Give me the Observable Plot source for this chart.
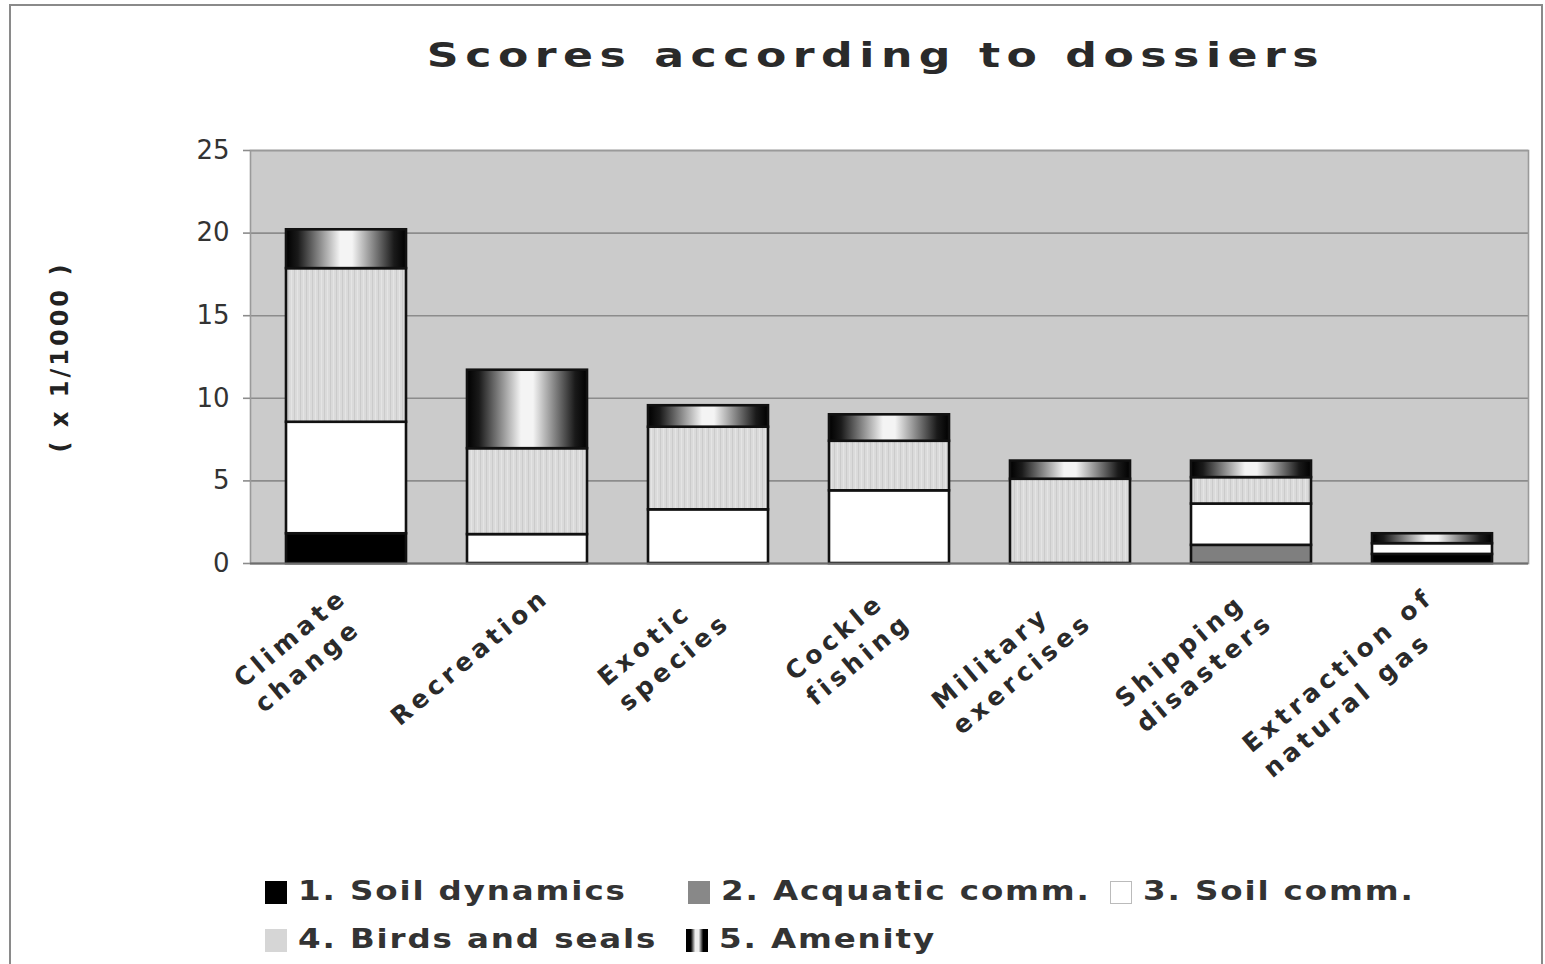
<!DOCTYPE html>
<html>
<head>
<meta charset="utf-8">
<script src="https://cdn.jsdelivr.net/npm/d3@7"></script>
<script src="https://cdn.jsdelivr.net/npm/@observablehq/plot@0.6"></script>
<style>
  html, body { margin: 0; padding: 0; background: #fff; width: 1545px; height: 964px; overflow: hidden;
    font-family: "DejaVu Sans", Verdana, sans-serif; }
  #outer { position: absolute; left: 9px; top: 4px; width: 1534px; height: 1000px;
    border: 2px solid #8a8a8a; border-bottom: none; box-sizing: border-box; }
  #title { position: absolute; left: 876px; top: 38px; white-space: nowrap; font-size: 34px; line-height: 34px;
    font-weight: bold; color: #2a2a2a; letter-spacing: 5px; transform: translateX(-50%) scaleX(1.3); transform-origin: center; }
  #chart { position: absolute; left: 0; top: 130px; }
  .legend-item { position: absolute; height: 30px; }
  .legend-item .sw { position: absolute; left: 0; top: 3px; width: 22px; height: 23px; box-sizing: border-box; }
  .legend-item .lb { position: absolute; left: 33px; top: 0; white-space: nowrap; font-size: 26px; line-height: 27px;
    font-weight: bold; color: #333; letter-spacing: 1.5px; transform: scaleX(1.25); transform-origin: left center; }
  .chart g[aria-label="x-axis tick label"] { letter-spacing: 4.5px; }
  .chart g[aria-label="text"] { letter-spacing: 3px; }
</style>
</head>
<body>
<div id="outer"></div>
<div id="title"></div>
<div id="chart"></div>
<div id="legend"></div>
<script>
// ---------- data ----------
const titleText = "Scores according to dossiers";
const yAxisTitle = "( x 1/1000 )";
const categories = ["Climate change", "Recreation", "Exotic species", "Cockle fishing",
  "Military exercises", "Shipping disasters", "Extraction of natural gas"];
const tickLabels = ["Climate\nchange", "Recreation", "Exotic\nspecies", "Cockle\nfishing",
  "Military\nexercises", "Shipping\ndisasters", "Extraction of\nnatural gas"];
const seriesNames = ["1. Soil dynamics", "2. Acquatic comm.", "3. Soil comm.", "4. Birds and seals", "5. Amenity"];
const soilDynamics = [1.8, 0, 0, 0, 0, 0, 0.55];
const aquaticComm  = [0, 0, 0, 0, 0, 1.1, 0];
const soilComm     = [6.75, 1.75, 3.25, 4.4, 0, 2.5, 0.65];
const birdsSeals   = [9.3, 5.2, 5.0, 3.0, 5.1, 1.6, 0];
const amenity      = [2.35, 4.75, 1.3, 1.6, 1.1, 1.0, 0.6];
const yTicks = [0, 5, 10, 15, 20, 25];

// ---------- styles ----------
const seriesFills = ["#000000", "#7f7f7f", "#ffffff", "url(#birdsPat)", "url(#amenityGrad)"];
const legendSwatches = [
  "background:#000;",
  "background:#888;",
  "background:#fff;border:1.5px solid #bbb;",
  "background:#d6d6d6;",
  "background:linear-gradient(to right,#000 0 22%,#eee 42% 58%,#000 78% 100%);"
];
const legendPos = [[265, 878], [688, 878], [1110, 878], [265, 926], [686, 926]];

const seriesValues = [soilDynamics, aquaticComm, soilComm, birdsSeals, amenity];
const rows = [];
categories.forEach((c, i) => {
  seriesNames.forEach((s, j) => {
    const v = seriesValues[j][i];
    if (v > 0) rows.push({category: c, series: s, value: v});
  });
});

document.getElementById("title").textContent = titleText;

const plot = Plot.plot({
  width: 1545,
  height: 730,
  marginLeft: 250,
  marginRight: 17,
  marginTop: 20,
  marginBottom: 297,
  className: "chart",
  style: {fontFamily: "DejaVu Sans, Verdana, sans-serif", fontSize: "26px", color: "#2e2e2e", background: "transparent", overflow: "visible"},
  x: {domain: categories, paddingInner: 0.335, paddingOuter: 0.18, label: null},
  y: {domain: [0, 25], label: null},
  color: {domain: seriesNames, range: seriesFills},
  marks: [
    Plot.frame({fill: "#cbcbcb", stroke: "none"}),
    Plot.gridY(yTicks, {stroke: "#8c8c8c", strokeOpacity: 1, strokeWidth: 1.6}),
    Plot.frame({fill: "none", stroke: "#9a9a9a", strokeWidth: 1.6}),
    Plot.axisY(yTicks, {tickSize: 7, tickPadding: 14, fontSize: 26, stroke: "#8c8c8c", strokeWidth: 1.6, label: null, color: "#333"}),
    Plot.barY(rows, Plot.stackY({x: "category", y: "value", fill: "series", order: seriesNames,
      stroke: "#111", strokeWidth: 2.6})),
    Plot.ruleY([0], {stroke: "#6e6e6e", strokeWidth: 2}),
    Plot.axisX({tickSize: 0, tickRotate: -40, textAnchor: "start", fontSize: 25, fontWeight: "bold", lineHeight: 1.3, label: null,
      tickFormat: d => tickLabels[categories.indexOf(d)], fill: "#2a2a2a"}),
    Plot.text([yAxisTitle], {frameAnchor: "left", rotate: -90, dx: -190, textAnchor: "middle", fontWeight: "bold", fontSize: 24, fill: "#222"})
  ]
});

// patterns / gradients referenced by the fills
d3.select(plot).insert("defs", ":first-child").html(`
  <linearGradient id="amenityGrad" x1="0" x2="1" y1="0" y2="0">
    <stop offset="0" stop-color="#000"/>
    <stop offset="0.1" stop-color="#1a1a1a"/>
    <stop offset="0.28" stop-color="#8a8a8a"/>
    <stop offset="0.45" stop-color="#f4f4f4"/>
    <stop offset="0.55" stop-color="#f4f4f4"/>
    <stop offset="0.72" stop-color="#8a8a8a"/>
    <stop offset="0.9" stop-color="#1a1a1a"/>
    <stop offset="1" stop-color="#000"/>
  </linearGradient>
  <pattern id="birdsPat" patternUnits="userSpaceOnUse" width="6" height="6">
    <rect width="6" height="6" fill="#dadada"/>
    <rect x="0" width="1" height="6" fill="#cbcbcb"/>
    <rect x="3" width="1" height="6" fill="#e4e4e4"/>
  </pattern>`);

document.getElementById("chart").append(plot);

// place rotated multi-line tick labels like the original: bounding box right edge just right of band centre
const xs = plot.scale("x");
const svgRect = plot.getBoundingClientRect();
d3.select(plot).selectAll('g[aria-label="x-axis tick label"] text').each(function(_, i) {
  const cat = categories[i];
  const center = xs.apply(cat) + xs.bandwidth / 2;
  const r = this.getBoundingClientRect();
  const right = r.right - svgRect.left;
  const top = r.top - svgRect.top;
  const dx = (center + 28) - right;
  const dy = (582 - 130) - top;
  this.setAttribute("transform", `translate(${dx},${dy}) ` + (this.getAttribute("transform") || ""));
});

// legend
const legend = document.getElementById("legend");
seriesNames.forEach((s, j) => {
  const item = document.createElement("div");
  item.className = "legend-item";
  item.style.left = legendPos[j][0] + "px";
  item.style.top = legendPos[j][1] + "px";
  item.innerHTML = `<div class="sw" style="${legendSwatches[j]}"></div><div class="lb">${s}</div>`;
  legend.append(item);
});
</script>
</body>
</html>
